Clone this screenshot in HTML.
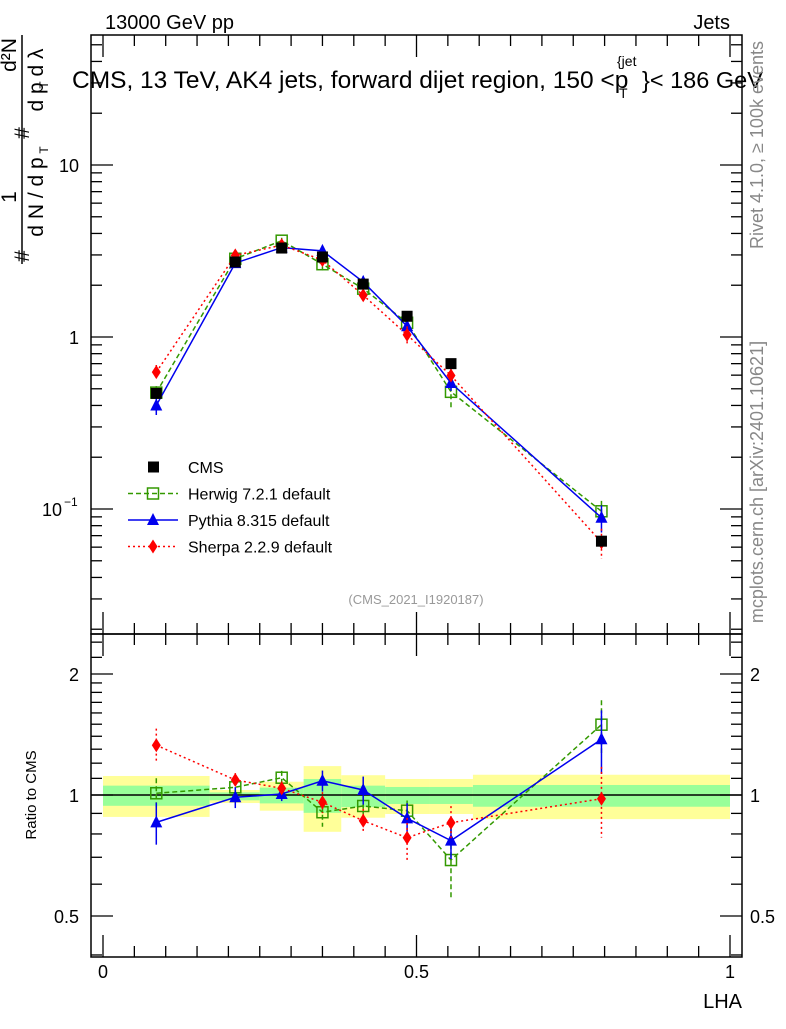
<!DOCTYPE html>
<html><head><meta charset="utf-8"><style>
body{margin:0;background:#fff;font-family:"Liberation Sans",sans-serif}
svg text{font-family:"Liberation Sans",sans-serif}
</style></head><body>
<svg id="c" width="786" height="1024" xmlns="http://www.w3.org/2000/svg"></svg>
<script>
const lha=[0.085,0.211,0.285,0.35,0.415,0.485,0.555,0.795];
const binEdges=[0,0.17,0.25,0.32,0.38,0.45,0.52,0.59,1.0];
const cms=[0.47,2.73,3.29,2.92,2.03,1.32,0.70,0.065];
const herwig=[0.475,2.85,3.63,2.65,1.91,1.21,0.48,0.097];
const pythia=[0.40,2.69,3.31,3.17,2.09,1.155,0.54,0.089];
const sherpa=[0.625,2.98,3.42,2.80,1.75,1.03,0.597,0.064];
const herwigErr=[0.09,0.04,0.04,0.08,0.06,0.06,0.2,0.15];
const pythiaErr=[0.12,0.06,0.04,0.06,0.08,0.09,0.1,0.18];
const sherpaErr=[0.1,0.04,0.04,0.06,0.07,0.12,0.1,0.2];
const yellowHi=[1.115,1.029,1.079,1.18,1.12,1.096,1.096,1.123];
const yellowLo=[0.882,0.955,0.914,0.81,0.878,0.897,0.897,0.871];
const greenHi=[1.055,1.015,1.043,1.096,1.055,1.047,1.047,1.059];
const greenLo=[0.94,0.97,0.953,0.903,0.933,0.95,0.95,0.935];
const herwigRatio=[1.01,1.045,1.104,0.906,0.939,0.914,0.689,1.496];
const pythiaRatio=[0.855,0.987,1.006,1.085,1.029,0.875,0.77,1.376];
const sherpaRatio=[1.33,1.09,1.039,0.959,0.863,0.783,0.853,0.979];

const NS="http://www.w3.org/2000/svg",svg=document.getElementById('c');
function el(t,a,txt){const e=document.createElementNS(NS,t);for(const k in a)e.setAttribute(k,a[k]);if(txt!==undefined)e.textContent=txt;svg.appendChild(e);return e;}
const L=91,R=742,T=35,M=634,B=957;
const X=v=>103+627*v;
const Y=v=>337-172*Math.log10(v);
const YR=r=>795-402*Math.log10(r);

for(let i=0;i<8;i++){
 let b=el('rect',{x:X(binEdges[i]),y:YR(yellowHi[i]),width:X(binEdges[i+1])-X(binEdges[i]),height:YR(yellowLo[i])-YR(yellowHi[i]),fill:'#ffff99'});
 
 let g=el('rect',{x:X(binEdges[i]),y:YR(greenHi[i]),width:X(binEdges[i+1])-X(binEdges[i]),height:YR(greenLo[i])-YR(greenHi[i]),fill:'#99ff99'});
 
}
el('line',{x1:L,x2:R,y1:YR(1),y2:YR(1),stroke:'#000','stroke-width':1.5});

el('rect',{x:L,y:T,width:R-L,height:M-T,fill:'none',stroke:'#000','stroke-width':1.5});
el('rect',{x:L,y:M,width:R-L,height:B-M,fill:'none',stroke:'#000','stroke-width':1.5});

for(let d=-2;d<=1;d++)for(let m=1;m<10;m++){const v=m*Math.pow(10,d);const y=Y(v);if(y<T||y>M)continue;const len=m==1?22:11;
 el('line',{x1:L,x2:L+len,y1:y,y2:y,stroke:'#000','stroke-width':1.3});el('line',{x1:R,x2:R-len,y1:y,y2:y,stroke:'#000','stroke-width':1.3});}
el('text',{x:79,y:172,'font-size':18,'text-anchor':'end'},'10');
el('text',{x:79,y:344,'font-size':18,'text-anchor':'end'},'1');
el('text',{x:62,y:516,'font-size':18,'text-anchor':'end'},'10');
el('text',{x:64,y:506,'font-size':12},'−1');
for(const r of [0.4,0.5,0.6,0.7,0.8,0.9,1,1.1,1.2,1.3,1.4,1.5,1.6,1.7,1.8,1.9,2,2.2,2.4]){const y=YR(r);if(y<M||y>B)continue;const len=(r==0.5||r==1||r==2)?22:11;
 el('line',{x1:L,x2:L+len,y1:y,y2:y,stroke:'#000','stroke-width':1.3});el('line',{x1:R,x2:R-len,y1:y,y2:y,stroke:'#000','stroke-width':1.3});}
[[2,'2'],[1,'1'],[0.5,'0.5']].forEach(([r,t])=>{el('text',{x:79,y:YR(r)+7,'font-size':18,'text-anchor':'end'},t);el('text',{x:750,y:YR(r)+7,'font-size':18},t);});
for(let i=0;i<=20;i++){const v=i*0.05,x=X(v);const len=i%10==0?22:11;
 [[T,1],[M,1],[M,-1],[B,-1]].forEach(([y0,s])=>el('line',{x1:x,x2:x,y1:y0,y2:y0+s*len,stroke:'#000','stroke-width':1.3}));}
el('text',{x:X(0),y:978,'font-size':18,'text-anchor':'middle'},'0');
el('text',{x:X(0.5),y:978,'font-size':18,'text-anchor':'middle'},'0.5');
el('text',{x:X(1),y:978,'font-size':18,'text-anchor':'middle'},'1');
el('text',{x:742,y:1008,'font-size':20,'text-anchor':'end'},'LHA');

const series=[
 {n:'herwig',v:herwig,e:herwigErr,r:herwigRatio,c:'#339900',d:'5,3',m:'sq'},
 {n:'pythia',v:pythia,e:pythiaErr,r:pythiaRatio,c:'#0000ee',d:'',m:'tri'},
 {n:'sherpa',v:sherpa,e:sherpaErr,r:sherpaRatio,c:'#ff0000',d:'2,3',m:'dia'}];
function marker(m,x,y,c){
 if(m=='sq')return el('rect',{x:x-5.5,y:y-5.5,width:11,height:11,fill:'none',stroke:c,'stroke-width':1.5});
 if(m=='tri')return el('polygon',{points:`${x},${y-7} ${x-6},${y+5} ${x+6},${y+5}`,fill:c});
 if(m=='dia')return el('polygon',{points:`${x},${y-7} ${x-4.5},${y} ${x},${y+7} ${x+4.5},${y}`,fill:c});
}
series.forEach(s=>{
 [[s.v,Y,1],[s.r,YR,0]].forEach(([vals,f,top])=>{
  const pts=vals.map((v,i)=>X(lha[i])+','+f(v)).join(' ');
  const pl=el('polyline',{points:pts,fill:'none',stroke:s.c,'stroke-width':1.5,'stroke-dasharray':s.d});
  
  vals.forEach((v,i)=>{const x=X(lha[i]);
   el('line',{x1:x,x2:x,y1:f(v*(1+s.e[i])),y2:f(v*(1-s.e[i])),stroke:s.c,'stroke-width':1.5,'stroke-dasharray':s.d});
   const mk=marker(s.m,x,f(v),s.c);});
 });
});
cms.forEach((v,i)=>{const r=el('rect',{x:X(lha[i])-5.5,y:Y(v)-5.5,width:11,height:11,fill:'#000'});
 });

const leg=[['CMS','#000','','cms'],['Herwig 7.2.1 default','#339900','5,3','sq'],['Pythia 8.315 default','#0000ee','','tri'],['Sherpa 2.2.9 default','#ff0000','2,3','dia']];
leg.forEach((l,i)=>{const y=467+i*26.5;
 if(l[3]=='cms'){el('rect',{x:148,y:y-5.5,width:11,height:11,fill:'#000'});}
 else{el('line',{x1:128,x2:178,y1:y,y2:y,stroke:l[1],'stroke-width':1.5,'stroke-dasharray':l[2]});marker(l[3],153,y,l[1]);}
 const t=el('text',{x:188,y:y+6,'font-size':16},l[0]);});
el('text',{x:416,y:604,'font-size':13,fill:'#999','text-anchor':'middle'},'(CMS_2021_I1920187)');

el('text',{x:105,y:29,'font-size':20},'13000 GeV pp');
el('text',{x:730,y:29,'font-size':20,'text-anchor':'end'},'Jets');
const ti=el('text',{x:72,y:88,'font-size':24.5},'CMS, 13 TeV, AK4 jets, forward dijet region, 150 <p');
el('text',{x:619,y:98,'font-size':14},'T');
el('text',{x:617,y:66,'font-size':14},'{jet');
el('text',{x:642,y:88,'font-size':23.5},'}< 186 GeV');
el('text',{x:0,y:0,'font-size':18,fill:'#888','text-anchor':'middle',transform:'translate(763,145) rotate(-90)'},'Rivet 4.1.0, ≥ 100k events');
el('text',{x:0,y:0,'font-size':18,fill:'#888','text-anchor':'middle',transform:'translate(763,482) rotate(-90)'},'mcplots.cern.ch [arXiv:2401.10621]');
el('text',{x:0,y:0,'font-size':15,'text-anchor':'middle',transform:'translate(36,795) rotate(-90)'},'Ratio to CMS');
el('line',{x1:22,x2:22,y1:35,y2:264,stroke:'#000','stroke-width':1.5});
const yt=[['#',29,256,21],['1',16,197,21],['d N / d p',43,197,21],['T',48,150,12],['#',29,133,21],['d²N',16,55,21],['d p    d λ',43,80,21],['T',48,85,12]];
yt.forEach(([t,x,y,fs])=>{const e=el('text',{x:0,y:0,'font-size':fs,'text-anchor':'middle',transform:`translate(${x},${y}) rotate(-90)`},t);
 });
</script>
</body></html>
